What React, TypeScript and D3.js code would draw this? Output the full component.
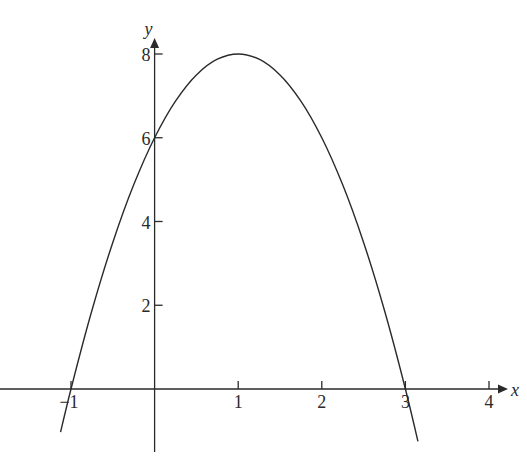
import * as React from "react"
import * as d3 from "d3"

// curve samples
const curveX = [-1.125, -1, -0.75, -0.5, -0.25, 0, 0.25, 0.5, 0.75, 1, 1.25, 1.5, 1.75, 2, 2.25, 2.5, 2.75, 3, 3.15]
const curveY = [-1.03, 0, 1.875, 3.5, 4.875, 6, 6.875, 7.5, 7.875, 8, 7.875, 7.5, 6.875, 6, 4.875, 3.5, 1.875, 0, -1.25]

const xTicks = [-1, 1, 2, 3, 4]
const xTickLabels = ["\u22121", "1", "2", "3", "4"]
const yTicks = [2, 4, 6, 8]
const yTickLabels = ["2", "4", "6", "8"]

export default function App() {
    const [w, h] = [527, 460]
    const font = "'Liberation Serif', 'DejaVu Serif', serif"
    const ink = "#2a2a2a"

    const xScale = d3.scaleLinear().domain([-1, 4]).range([71, 489])
    const yScale = d3.scaleLinear().domain([0, 8]).range([389, 54])

    const x0 = xScale(0)
    const y0 = yScale(0)

    const line = d3
        .line<number>()
        .x((_, i) => xScale(curveX[i]))
        .y(d => yScale(d))
        .curve(d3.curveCatmullRom.alpha(0.5))

    const xTickMarks = xTicks.map((d, i) => (
        <g key={i}>
            <line x1={xScale(d)} x2={xScale(d)} y1={y0} y2={y0 - 8} stroke={ink} strokeWidth={1.3} />
            <text x={xScale(d) - (d < 0 ? 2 : 0)} y={y0 + 19} fontSize={18} textAnchor="middle" fill={ink} fontFamily={font}>
                {xTickLabels[i]}
            </text>
        </g>
    ))

    const yTickMarks = yTicks.map((d, i) => (
        <g key={i}>
            <line x1={x0} x2={x0 + 8} y1={yScale(d)} y2={yScale(d)} stroke={ink} strokeWidth={1.3} />
            <text x={x0 - 4} y={yScale(d) + 7} fontSize={18} textAnchor="end" fill={ink} fontFamily={font}>
                {yTickLabels[i]}
            </text>
        </g>
    ))

    return (
        <svg width={w} height={h} style={{ position: "absolute", left: 0, top: 0, background: "white" }}>
            {/* axes */}
            <line x1={0} x2={500} y1={y0} y2={y0} stroke={ink} strokeWidth={1.3} />
            <path d={`M${508},${y0} L${498},${y0 - 4.5} L${498},${y0 + 4.5} Z`} fill={ink} />
            <text x={511} y={y0 + 7} fontSize={18} fontStyle="italic" fill={ink} fontFamily={font}>x</text>

            <line x1={x0} x2={x0} y1={452} y2={46} stroke={ink} strokeWidth={1.3} />
            <path d={`M${x0},${38} L${x0 - 4.5},${48} L${x0 + 4.5},${48} Z`} fill={ink} />
            <text x={x0 - 6} y={35} fontSize={18} fontStyle="italic" textAnchor="middle" fill={ink} fontFamily={font}>y</text>

            {xTickMarks}
            {yTickMarks}

            <path d={line(curveY) ?? ""} fill="none" stroke={ink} strokeWidth={1.4} />
        </svg>
    )
}
